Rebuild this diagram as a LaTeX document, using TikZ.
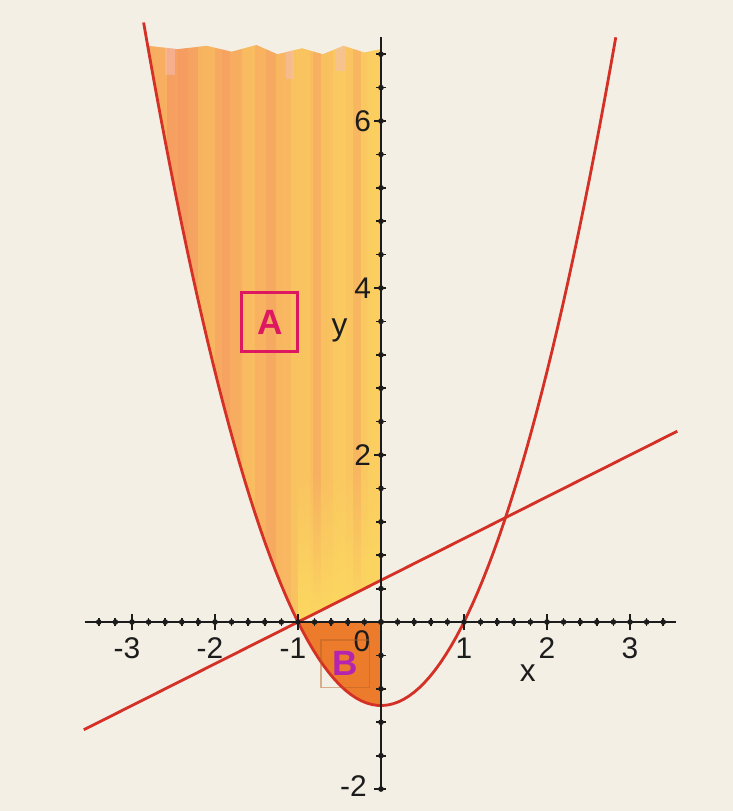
\documentclass[tikz,border=0pt]{standalone}
\usepackage{fontspec}
\setmainfont{Liberation Sans}
\usetikzlibrary{calc,fadings}
\definecolor{paper}{RGB}{243,239,229}
\definecolor{curvec}{RGB}{212,48,38}
\definecolor{regA}{RGB}{248,178,94}
\definecolor{regAy}{RGB}{252,216,96}
\definecolor{regAp}{RGB}{244,146,98}
\definecolor{regApink}{RGB}{246,190,185}
\definecolor{regB}{RGB}{236,124,44}
\definecolor{boxA}{RGB}{222,24,96}
\definecolor{letB}{RGB}{180,36,176}
\definecolor{axc}{RGB}{28,28,28}
\tikzset{
  curve/.style={curvec,line width=0.8pt},
  axis/.style={axc,line width=0.7pt},
  tickmin/.style={axc,line width=0.5pt},
  tickmaj/.style={axc,line width=0.7pt},
  num/.style={font=\fontsize{8.5}{9}\selectfont,text=axc,inner sep=1pt},
  axlab/.style={font=\fontsize{9}{10}\selectfont,text=axc,inner sep=0pt},
  regbox/.style={draw=boxA,line width=0.9pt,minimum width=0.56cm,minimum height=0.59cm,text=boxA,font=\fontsize{10}{11}\selectfont\bfseries},
  regboxB/.style={draw=regB!75!black,draw opacity=0.45,line width=0.4pt,minimum width=0.35cm,minimum height=0.42cm,text=letB,font=\fontsize{10}{11}\selectfont\bfseries},
}
\begin{document}
\begin{tikzpicture}[x=0.83cm,y=0.835cm]
\useasboundingbox (-4.59,-2.263) rectangle (4.241,7.449);
\fill[paper] (-4.59,-2.263) rectangle (4.241,7.449);

% ================= region A (coloured in) =================
\begin{scope}
\clip (-1,0) -- (0,0.5) -- (0,6.86) -- (-0.2,6.82) -- (-0.45,6.9) -- (-0.7,6.8) -- (-0.95,6.87)
  -- (-1.25,6.8) -- (-1.5,6.91) -- (-1.8,6.83) -- (-2.1,6.9) -- (-2.45,6.86) -- (-2.81,6.9)
  -- plot[domain=-2.81:-1,samples=40] (\x,{\x*\x-1}) -- cycle;
\shade[left color=regAp!80!regA,right color=regAy!70!regA] (-2.9,-0.2) rectangle (0.05,7.2);
% pencil strokes
\foreach \x/\w/\c in {-2.78/0.2/regAy, -2.45/0.12/regAp, -2.2/0.2/regAy, -1.92/0.1/regAp, -1.68/0.16/regAy,
  -1.38/0.12/regAp, -1.08/0.22/regAy, -0.82/0.1/regAp, -0.58/0.16/regAy, -0.34/0.1/regAp, -0.16/0.16/regAy}{
  \fill[\c,opacity=0.3] (\x,-0.2) rectangle ++(\w,7.4);
}
\fill[regAy,path fading=north] (-1,0) rectangle (0,1.8);
\fill[regApink,opacity=0.5] (-2.6,6.55) rectangle ++(0.12,0.5);
\fill[regApink,opacity=0.5] (-1.15,6.5) rectangle ++(0.1,0.5);
\fill[regApink,opacity=0.5] (-0.55,6.6) rectangle ++(0.12,0.4);
\end{scope}

% ================= region B =================
\fill[regB] (-1,0) -- (0,0) -- plot[domain=0:-1,samples=30] (\x,{\x*\x-1}) -- cycle;

% ================= graphs =================
\coordinate (lineL) at (-3.58,-1.29);
\coordinate (lineR) at (3.57,2.285);
\draw[curve] (lineL) -- (lineR);
\draw[curve] plot[domain=-2.86:2.83,samples=90] (\x,{\x*\x-1});

% ================= axes =================
\draw[axis] (-3.57,0) -- (3.55,0);
\draw[axis] (0,-2) -- (0,7.0);
\foreach \i in {-17,...,17}{
  \draw[tickmin] (\i/5,-0.05) -- (\i/5,0.05);
  \fill[axc] (\i/5,0) circle (0.8pt);
}
\foreach \i in {-3,...,3}
  \draw[tickmaj] (\i,-0.1) -- (\i,0.1);
\foreach \i in {-5,...,17}{
  \draw[tickmin] (-0.06,\i*0.4) -- (0.06,\i*0.4);
  \fill[axc] (0,\i*0.4) circle (0.8pt);
}
\foreach \i in {-2,2,4,6}
  \draw[tickmaj] (-0.08,\i) -- (0.06,\i);

% tick labels
\foreach \v in {1,2,3}
  \node[num,anchor=north] (xl\v) at (\v,-0.14) {\v};
\foreach \v/\d in {-3/3,-2/2,-1/1}
  \node[num,anchor=north] (xlm\d) at (\v,-0.14) {\llap{-}\d};
\node[num] (xl0) at (-0.23,-0.23) {0};
\foreach \v in {2,4,6}
  \node[num,anchor=east] (yl\v) at (-0.07,\v) {\v};
\node[num,anchor=east] (ylm2) at (-0.12,-1.97) {-2};
\node[axlab] (xlab) at (1.77,-0.61) {x};
\node[axlab] (ylab) at (-0.5,3.49) {y};

% region labels
\node[regbox] (labA) at (-1.34,3.59) {A};
\node[regboxB] (labB) at (-0.43,-0.5) {B};
\end{tikzpicture}
\end{document}
